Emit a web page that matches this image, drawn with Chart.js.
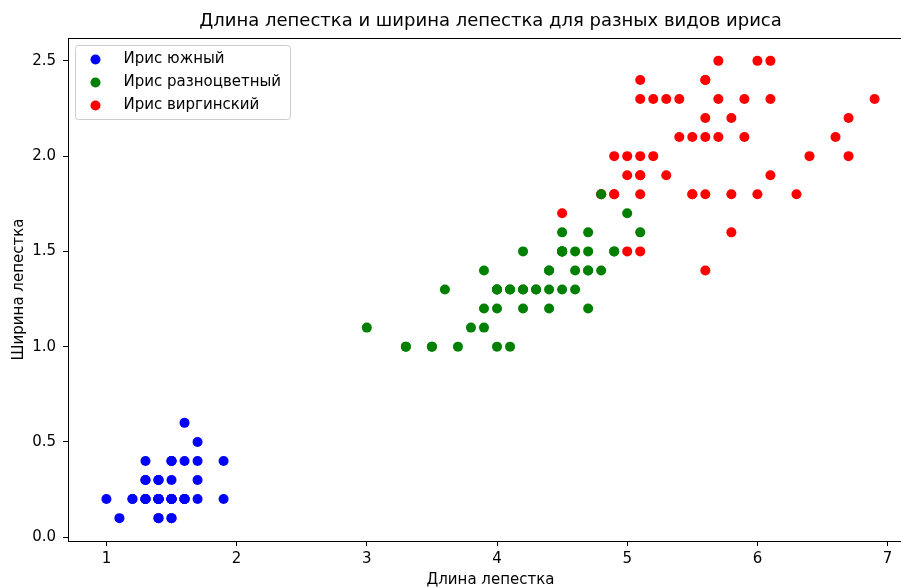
<!DOCTYPE html>
<html lang="ru">
<head>
    <meta charset="UTF-8">
    <title>Ирис: длина и ширина лепестка</title>
    <style>
        body {
            margin: 0;
            background: #ffffff;
            overflow: hidden;
        }
        #wrap {
            width: 901px;
            height: 587px;
            overflow: hidden;
        }
    </style>
</head>
<body>
    <div id="wrap">
        <canvas id="irisChart" width="918" height="587"></canvas>
    </div>

    <script src="https://cdn.jsdelivr.net/npm/chart.js"></script>
    <script>
        // Data (petal length, petal width)
        const speciesNames = ['Ирис южный', 'Ирис разноцветный', 'Ирис виргинский'];
        const speciesColors = ['#0000ff', '#008000', '#ff0000'];

        const setosaLength = [1.4, 1.4, 1.3, 1.5, 1.4, 1.7, 1.4, 1.5, 1.4, 1.5, 1.5, 1.6, 1.4, 1.1, 1.2, 1.5, 1.3, 1.4, 1.7, 1.5, 1.7, 1.5, 1.0, 1.7, 1.9, 1.6, 1.6, 1.5, 1.4, 1.6, 1.6, 1.5, 1.5, 1.4, 1.5, 1.2, 1.3, 1.4, 1.3, 1.5, 1.3, 1.3, 1.3, 1.6, 1.9, 1.4, 1.6, 1.4, 1.5, 1.4];
        const setosaWidth = [0.2, 0.2, 0.2, 0.2, 0.2, 0.4, 0.3, 0.2, 0.2, 0.1, 0.2, 0.2, 0.1, 0.1, 0.2, 0.4, 0.4, 0.3, 0.3, 0.3, 0.2, 0.4, 0.2, 0.5, 0.2, 0.2, 0.4, 0.2, 0.2, 0.2, 0.2, 0.4, 0.1, 0.2, 0.2, 0.2, 0.2, 0.1, 0.2, 0.2, 0.3, 0.3, 0.2, 0.6, 0.4, 0.3, 0.2, 0.2, 0.2, 0.2];

        const versicolorLength = [4.7, 4.5, 4.9, 4.0, 4.6, 4.5, 4.7, 3.3, 4.6, 3.9, 3.5, 4.2, 4.0, 4.7, 3.6, 4.4, 4.5, 4.1, 4.5, 3.9, 4.8, 4.0, 4.9, 4.7, 4.3, 4.4, 4.8, 5.0, 4.5, 3.5, 3.8, 3.7, 3.9, 5.1, 4.5, 4.5, 4.7, 4.4, 4.1, 4.0, 4.4, 4.6, 4.0, 3.3, 4.2, 4.2, 4.2, 4.3, 3.0, 4.1];
        const versicolorWidth = [1.4, 1.5, 1.5, 1.3, 1.5, 1.3, 1.6, 1.0, 1.3, 1.4, 1.0, 1.5, 1.0, 1.4, 1.3, 1.4, 1.5, 1.0, 1.5, 1.1, 1.8, 1.3, 1.5, 1.2, 1.3, 1.4, 1.4, 1.7, 1.5, 1.0, 1.1, 1.0, 1.2, 1.6, 1.5, 1.6, 1.5, 1.3, 1.3, 1.3, 1.2, 1.4, 1.2, 1.0, 1.3, 1.2, 1.3, 1.3, 1.1, 1.3];

        const virginicaLength = [6.0, 5.1, 5.9, 5.6, 5.8, 6.6, 4.5, 6.3, 5.8, 6.1, 5.1, 5.3, 5.5, 5.0, 5.1, 5.3, 5.5, 6.7, 6.9, 5.0, 5.7, 4.9, 6.7, 4.9, 5.7, 6.0, 4.8, 4.9, 5.6, 5.8, 6.1, 6.4, 5.6, 5.1, 5.6, 6.1, 5.6, 5.5, 4.8, 5.4, 5.6, 5.1, 5.1, 5.9, 5.7, 5.2, 5.0, 5.2, 5.4, 5.1];
        const virginicaWidth = [2.5, 1.9, 2.1, 1.8, 2.2, 2.1, 1.7, 1.8, 1.8, 2.5, 2.0, 1.9, 2.1, 2.0, 2.4, 2.3, 1.8, 2.2, 2.3, 1.5, 2.3, 2.0, 2.0, 1.8, 2.1, 1.8, 1.8, 1.8, 2.1, 1.6, 1.9, 2.0, 2.2, 1.5, 1.4, 2.3, 2.4, 1.8, 1.8, 2.1, 2.4, 2.3, 1.9, 2.3, 2.5, 2.3, 1.9, 2.0, 2.3, 1.8];

        const xTicks = [1, 2, 3, 4, 5, 6, 7];
        const yTicks = [0, 0.5, 1.0, 1.5, 2.0, 2.5];

        const FONT = 'DejaVu Sans';

        function toPoints(xs, ys) {
            return xs.map((x, i) => ({ x: x, y: ys[i] }));
        }

        const lengths = [setosaLength, versicolorLength, virginicaLength];
        const widths = [setosaWidth, versicolorWidth, virginicaWidth];

        const datasets = speciesNames.map((name, i) => ({
            label: name,
            data: toPoints(lengths[i], widths[i]),
            backgroundColor: speciesColors[i],
            borderWidth: 0,
            pointRadius: 5,
            pointHoverRadius: 5
        }));

        // matplotlib-like frame around the plot area
        const framePlugin = {
            id: 'frame',
            afterDatasetsDraw(chart) {
                const a = chart.chartArea;
                const ctx = chart.ctx;
                ctx.save();
                ctx.strokeStyle = '#000000';
                ctx.lineWidth = 1;
                ctx.strokeRect(a.left + 0.5, a.top + 0.5, a.right - a.left, a.bottom - a.top);
                ctx.restore();
            }
        };

        // legend box in the upper left corner
        const legendBoxPlugin = {
            id: 'legendBox',
            afterDatasetsDraw(chart) {
                const ctx = chart.ctx;
                const a = chart.chartArea;
                const x = a.left + 7.5, y = a.top + 7.5, w = 215, h = 74;
                ctx.save();
                ctx.beginPath();
                ctx.roundRect(x, y, w, h, 3);
                ctx.fillStyle = 'rgba(255,255,255,0.8)';
                ctx.fill();
                ctx.strokeStyle = '#cccccc';
                ctx.lineWidth = 1;
                ctx.stroke();
                ctx.font = '15px "' + FONT + '"';
                ctx.textBaseline = 'middle';
                chart.data.datasets.forEach((ds, i) => {
                    const cy = y + 14 + i * 23;
                    ctx.beginPath();
                    ctx.arc(x + 20, cy, 5, 0, Math.PI * 2);
                    ctx.fillStyle = ds.backgroundColor;
                    ctx.fill();
                    ctx.fillStyle = '#000000';
                    ctx.fillText(ds.label, x + 48, cy);
                });
                ctx.restore();
            }
        };

        const ctx = document.getElementById('irisChart').getContext('2d');
        new Chart(ctx, {
            type: 'scatter',
            data: { datasets: datasets },
            options: {
                responsive: false,
                animation: false,
                events: [],
                layout: { padding: 0 },
                plugins: {
                    legend: { display: false },
                    tooltip: { enabled: false },
                    title: {
                        display: true,
                        fullSize: false,
                        text: 'Длина лепестка и ширина лепестка для разных видов ириса',
                        color: '#000000',
                        font: { family: FONT, size: 18, weight: 'normal' },
                        padding: { top: 11, bottom: 5.4 }
                    }
                },
                scales: {
                    x: {
                        type: 'linear',
                        min: 0.705,
                        max: 7.195,
                        afterBuildTicks(scale) {
                            scale.ticks = xTicks.map(v => ({ value: v }));
                        },
                        afterFit(scale) { scale.height = 46; },
                        grid: {
                            drawOnChartArea: false,
                            drawTicks: true,
                            tickLength: 5,
                            tickColor: '#000000'
                        },
                        border: { display: false },
                        ticks: {
                            color: '#000000',
                            padding: 4,
                            maxRotation: 0,
                            font: { family: FONT, size: 15 },
                            callback: v => String(v)
                        },
                        title: {
                            display: true,
                            text: 'Длина лепестка',
                            color: '#000000',
                            font: { family: FONT, size: 15 },
                            padding: { top: 0, bottom: -2 }
                        }
                    },
                    y: {
                        type: 'linear',
                        min: -0.02,
                        max: 2.62,
                        afterBuildTicks(scale) {
                            scale.ticks = yTicks.map(v => ({ value: v }));
                        },
                        afterFit(scale) { scale.width = 68; },
                        grid: {
                            drawOnChartArea: false,
                            drawTicks: true,
                            tickLength: 5,
                            tickColor: '#000000'
                        },
                        border: { display: false },
                        ticks: {
                            color: '#000000',
                            padding: 7,
                            font: { family: FONT, size: 15 },
                            callback: v => v.toFixed(1)
                        },
                        title: {
                            display: true,
                            text: 'Ширина лепестка',
                            color: '#000000',
                            font: { family: FONT, size: 15 },
                            padding: 10
                        }
                    }
                }
            },
            plugins: [framePlugin, legendBoxPlugin]
        });
    </script>
</body>
</html>
